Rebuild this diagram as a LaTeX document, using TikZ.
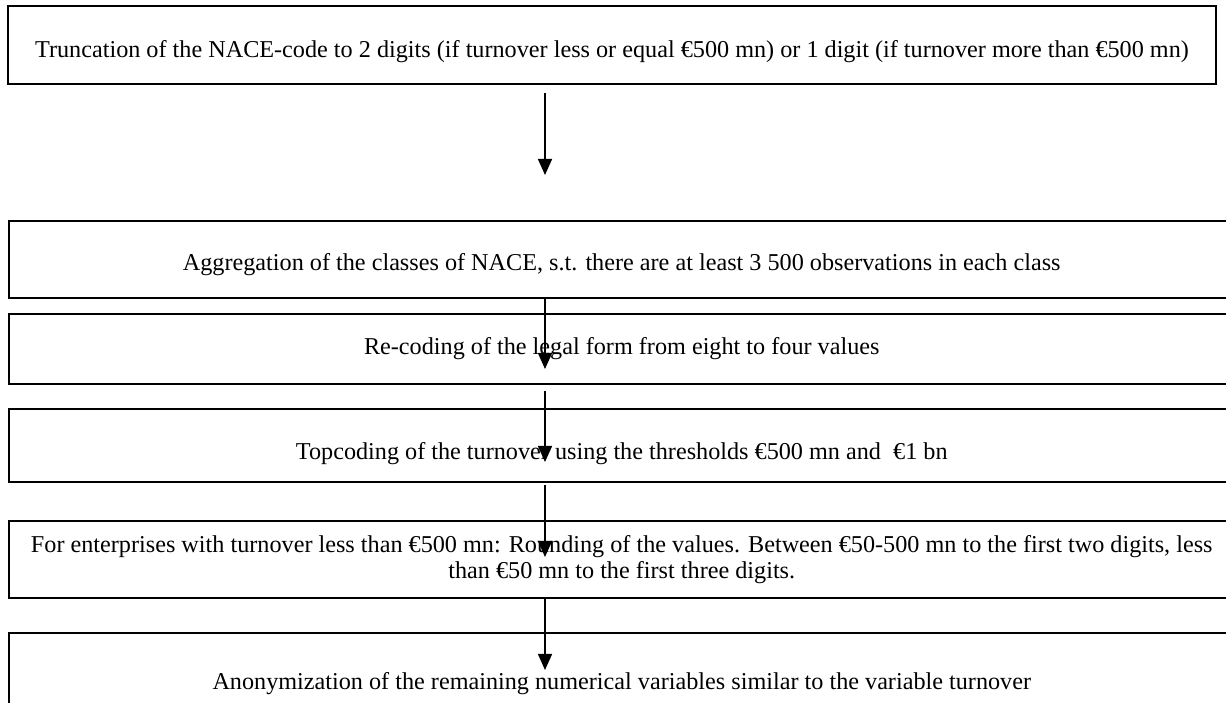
\documentclass[tikz,border=0pt]{standalone}
\usepackage{fontspec}
\setmainfont{Liberation Serif}
\usepackage{tikz}
\usetikzlibrary{arrows.meta, positioning}

\newcommand{\dropby}[2]{\raisebox{-#1}[\height][\depth]{#2}}

\tikzset{
    procbox/.style={draw, line width=1.5pt, rectangle, inner sep=0pt,
        align=center, font=\fontsize{24.2}{26}\selectfont},
    flow/.style={line width=1.5pt, -{Triangle[length=16pt,width=14pt]}}
}

\begin{document}
\begin{tikzpicture}[x=1pt,y=1pt]
    \useasboundingbox (0,0) rectangle (1226,703);
    \node[procbox, minimum width=1208pt, minimum height=78pt] (trunc) at (612,658)
        {\dropby{7pt}{Truncation of the NACE-code to 2 digits (if turnover less or equal \texteuro500 mn) or 1 digit (if turnover more than \texteuro500 mn)}};
    \node[procbox, anchor=west, minimum width=1226pt, minimum height=77pt] (aggr) at (8,443.5)
        {\dropby{5pt}{Aggregation of the classes of NACE, s.t. there are at least 3 500 observations in each class}};
    \node[procbox, anchor=west, minimum width=1226pt, minimum height=70pt] (recode) at (8,354)
        {Re-coding of the legal form from eight to four values};
    \node[procbox, anchor=west, minimum width=1226pt, minimum height=73pt] (topc) at (8,257.5)
        {\dropby{8pt}{Topcoding of the turnover using the thresholds \texteuro500 mn and ~\texteuro1 bn}};
    \node[procbox, anchor=west, minimum width=1226pt, minimum height=77pt] (round) at (8,143.5)
        {For enterprises with turnover less than \texteuro500 mn: Rounding of the values. Between \texteuro50-500 mn to the first two digits, less\\
         than \texteuro50 mn to the first three digits.};
    \node[procbox, anchor=west, minimum width=1226pt, minimum height=90pt] (anon) at (8,25)
        {\dropby{6pt}{Anonymization of the remaining numerical variables similar to the variable turnover}};

    % arrows, they do not touch the boxes
    \coordinate (s1) at (545,610);  \coordinate (e1) at (545,528);
    \coordinate (s2) at (545,406);  \coordinate (e2) at (545,334);
    \coordinate (s3) at (545,312);  \coordinate (e3) at (545,241);
    \coordinate (s4) at (545,218);  \coordinate (e4) at (545,146);
    \coordinate (s5) at (545,106);  \coordinate (e5) at (545,33);
    \foreach \i in {1,...,5}
        \draw[flow] (s\i) -- (e\i);
\end{tikzpicture}
\end{document}
